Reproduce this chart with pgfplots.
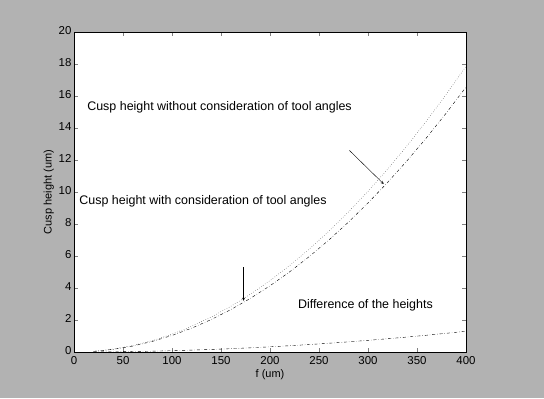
\documentclass[border=0pt]{standalone}
\usepackage{fontspec}
\setmainfont{Liberation Sans}
\usepackage{pgfplots}
\pgfplotsset{compat=1.18}
\definecolor{bgg}{RGB}{178,178,178}
\pgfplotstableread{
x lower upper diff
20 0.041 0.044 0.003
40 0.166 0.179 0.013
60 0.373 0.402 0.029
80 0.662 0.714 0.052
100 1.035 1.116 0.081
120 1.490 1.607 0.117
140 2.029 2.188 0.159
160 2.650 2.857 0.207
180 3.353 3.615 0.262
200 4.140 4.464 0.324
220 5.009 5.401 0.392
240 5.962 6.429 0.467
260 6.997 7.545 0.548
280 8.114 8.749 0.635
300 9.315 10.044 0.729
320 10.598 11.427 0.829
340 11.965 12.901 0.936
360 13.414 14.464 1.050
380 14.945 16.115 1.170
400 16.560 17.856 1.296
}\data
\begin{document}
\begin{tikzpicture}[x=1bp,y=1bp]
\fill[bgg] (-74,-46) rectangle (470,352);
\begin{axis}[
  at={(0,0)}, anchor=south west,
  scale only axis, width=392bp, height=320bp,
  xmin=0, xmax=400, ymin=0, ymax=20,
  xtick={0,50,...,400}, ytick={0,2,...,20},
  tick align=inside, major tick length=4bp,
  axis background/.style={fill=white},
  axis line style={line width=0.8pt},
  tick label style={font=\fontsize{11.5}{12}\selectfont},
  xticklabel style={yshift=-1bp},
  yticklabel style={xshift=1bp, yshift=1.5bp},
  /pgf/number format/assume math mode=true,
  xlabel={f (um)}, ylabel={Cusp height (um)},
  label style={font=\fontsize{11}{12}\selectfont},
  xlabel style={yshift=2bp}, ylabel style={yshift=-2bp},
  clip=false,
]
\addplot[black, thin, dotted] table[x=x,y=upper] {\data};
\addplot[black, thin, dash dot] table[x=x,y=lower] {\data};
\addplot[black, thin, dash dot] table[x=x,y=diff] {\data};
\node[anchor=west, font=\fontsize{12.5}{14}\selectfont] at (axis cs:10,15.3) {Cusp height without consideration of tool angles};
\node[anchor=west, font=\fontsize{12.5}{14}\selectfont] at (axis cs:2,9.4) {Cusp height with consideration of tool angles};
\node[anchor=west, font=\fontsize{12.5}{14}\selectfont] at (axis cs:225,2.95) {Difference of the heights};
\draw[->, >=stealth, thin] (axis cs:281,12.6) -- (axis cs:316,10.5);
\draw[->, >=stealth, thin] (axis cs:173,5.3) -- (axis cs:173,3.2);
\end{axis}
\end{tikzpicture}
\end{document}
